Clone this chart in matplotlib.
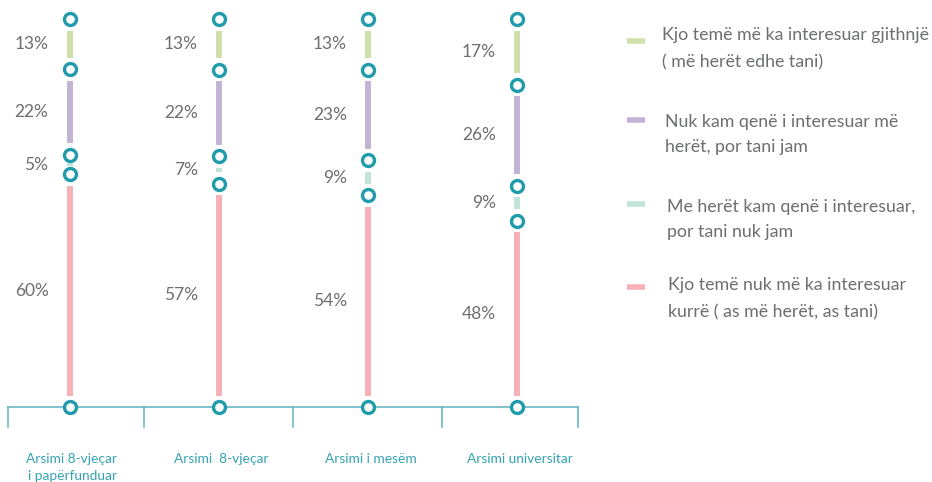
import matplotlib
matplotlib.use("Agg")
import matplotlib.pyplot as plt
import numpy as np

# ---------------- data ----------------
categories = ["Arsimi 8-vjeçar\ni papërfunduar", "Arsimi  8-vjeçar", "Arsimi i mesëm", "Arsimi universitar"]
# stacked from bottom to top
never_interested = [60, 57, 54, 48]      # Kjo temë nuk më ka interesuar kurrë
before_not_now = [5, 7, 9, 9]            # Me herët kam qenë i interesuar, por tani nuk jam
now_not_before = [22, 22, 23, 26]        # Nuk kam qenë i interesuar më herët, por tani jam
always_interested = [13, 13, 13, 17]     # Kjo temë më ka interesuar gjithnjë

series_labels = [
    "Kjo temë nuk më ka interesuar\nkurrë ( as më herët, as tani)",
    "Me herët kam qenë i interesuar,\npor tani nuk jam",
    "Nuk kam qenë i interesuar më\nherët, por tani jam",
    "Kjo temë më ka interesuar gjithnjë\n( më herët edhe tani)",
]

# ---------------- style ----------------
colors = ["#f8b0b6", "#c2e4d8", "#c3b4d6", "#d0e0aa"]
teal = "#1f9bab"
axis_col = "#5fb0bf"
text_grey = "#6d6e71"
cat_col = "#35a3b3"
FONT = ["Lato", "DejaVu Sans"]
plt.rcParams["font.family"] = FONT

W, H = 932, 482
fig = plt.figure(figsize=(W / 100, H / 100), dpi=100)
ax = fig.add_axes([0, 0, 1, 1])
ax.set_axis_off()

x0_px, xs_px = 69.5, 149.2      # pixel of x=0, pixels per unit
y0_px, ys_px = 407.0, 3.88      # pixel (from top) of y=0, pixels per percent
ax.set_xlim(-x0_px / xs_px, (W - x0_px) / xs_px)
ax.set_ylim(-(H - y0_px) / ys_px, y0_px / ys_px)

def fx(px):
    return px / W

def fy(py):
    return 1 - py / H

series = [never_interested, before_not_now, now_not_before, always_interested]
vals = np.array(series, dtype=float)            # shape (4 series, 4 categories)
shares = vals / vals.sum(axis=0) * 100
cum = np.vstack([np.zeros(shares.shape[1]), np.cumsum(shares, axis=0)])
x = np.arange(len(categories))

# segments
for si in range(len(series)):
    for ci in range(len(categories)):
        lo, hi = cum[si, ci], cum[si + 1, ci]
        length_px = (hi - lo) * ys_px
        g_px = min(11.5, (length_px - 3.0) / 2)
        g = g_px / ys_px
        ax.plot([x[ci], x[ci]], [lo + g, hi - g], color=colors[si], lw=4.3,
                solid_capstyle="butt", zorder=2)
        mid = (lo + hi) / 2
        ax.text(x[ci] - 21 / xs_px, mid, f"{series[si][ci]}%", ha="right", va="center",
                fontsize=12.5, color=text_grey, zorder=5)

# boundary circles
for ci in range(len(categories)):
    ax.plot(np.full(cum.shape[0], x[ci]), cum[:, ci], ls="none", marker="o",
            ms=8.6, mew=2.4, mec=teal, mfc="white", zorder=4)

# category axis
bounds = [-0.41, 0.5, 1.5, 2.5, 3.41]
ax.plot([bounds[0], bounds[-1]], [0, 0], color=axis_col, lw=1.1, zorder=1)
for b in bounds:
    ax.plot([b, b], [0, -20 / ys_px], color=axis_col, lw=1.1, zorder=1)

for ci, lab in enumerate(categories):
    for li, line in enumerate(lab.split("\n")):
        ypx = 459 + li * 17.5
        ax.text(x[ci] + 2.5 / xs_px, -(ypx - y0_px) / ys_px, line, ha="center", va="center",
                fontsize=9.9, color=cat_col)

# legend (top to bottom: reverse of stacking order)
leg_marker_y = [41, 120, 204, 287]
leg_text_y = [(35, 62), (122, 147), (207, 232), (285, 312)]
leg_text_x = [662, 665, 667, 668]
for k, si in enumerate(range(len(series) - 1, -1, -1)):
    fig.add_artist(plt.Line2D([fx(627), fx(645)], [fy(leg_marker_y[k])] * 2,
                              color=colors[si], lw=4.0, solid_capstyle="butt"))
    for li, line in enumerate(series_labels[si].split("\n")):
        fig.text(fx(leg_text_x[k]), fy(leg_text_y[k][li]), line, ha="left", va="center",
                 fontsize=12.8, color=text_grey)

fig.savefig("out.png", dpi=100, facecolor="white")
